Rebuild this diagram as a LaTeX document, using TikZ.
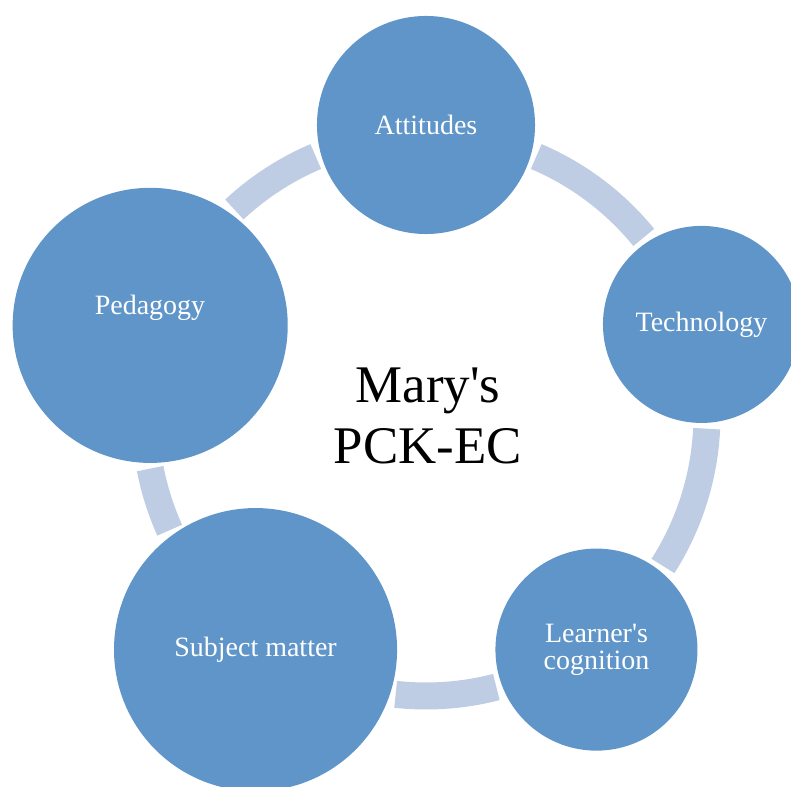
\documentclass[tikz,border=0pt]{standalone}
\usepackage{fontspec}
\setmainfont{Liberation Serif}
\usetikzlibrary{calc}
\definecolor{bubfill}{RGB}{95,149,200}
\definecolor{ringcol}{RGB}{190,205,227}

\begin{document}
\begin{tikzpicture}[
  x=0.025cm, y=0.025cm,
  bub/.style={circle, fill=bubfill, inner sep=0pt, text=white,
              font=\fontsize{19.9}{19.2}\selectfont, align=center,
              minimum size=#1*0.05cm},
  bubtxt/.style={text=white, font=\fontsize{19.9}{19.2}\selectfont,
                 inner sep=0pt, anchor=base},
  ring/.style={draw=ringcol, line width=0.675cm},
  hubtxt/.style={font=\fontsize{37.6}{44}\selectfont, align=center}
]
\useasboundingbox (0,0) rectangle (791,787);
\clip (0,0) rectangle (791,787);
\coordinate (hub) at (426,372);
% ring pieces between the circles
\foreach \a/\b in {66.9/39.2, -2.8/-32.5, -75.5/-96.2,
                   -155.8/-169.0, 133.0/113.1}
  \draw[ring] ($(hub)+(\a:281)$) arc[start angle=\a, end angle=\b, radius=281];
% the five circles
\node[bub=109]   (att)  at ($(hub)+(90:290)$)   {Attitudes};
\node[bub=98.5]  (tech) at ($(hub)+(18.2:290)$) {Technology};
\node[bub=101]   (lrn)  at ($(hub)+(-54:290)$)  {Learner\textquotesingle s\\cognition};
\node[bub=141.5] (subj) at ($(hub)+(-126:290)$) {Subject matter};
\node[bub=137.5] (ped)  at ($(hub)+(162:290)$)  {};
\node[bubtxt] (pedlbl) at (150,472) {Pedagogy};
% middle
\node[hubtxt] (title) at (428,371) {Mary\textquotesingle s\\PCK-EC};
\end{tikzpicture}
\end{document}
